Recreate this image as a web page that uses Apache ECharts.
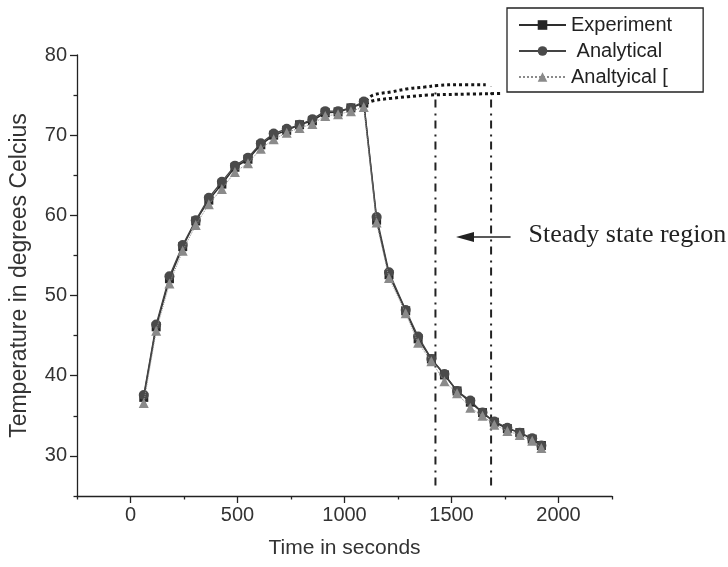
<!DOCTYPE html>
<html>
<head>
<meta charset="utf-8">
<script src="https://cdn.jsdelivr.net/npm/echarts@6/dist/echarts.min.js"></script>
<style>
  html, body { margin: 0; padding: 0; background: #fff; }
  #chart { width: 728px; height: 567px; }
</style>
</head>
<body>
<div id="chart"></div>
<script>
// Sampling times (s): heating run followed by the cooling run
const timeSec = [62, 120, 182, 244, 305, 366, 427, 488, 549, 609, 669, 730, 790, 850, 910, 970, 1030, 1090,
                 1150, 1208, 1286, 1344, 1406, 1467, 1526, 1588, 1645, 1700, 1761, 1819, 1877, 1920];

// Measured temperatures (deg C)
const experiment = [37.3, 46.1, 52.1, 56.1, 59.3, 61.9, 63.9, 66.0, 67.0, 68.8, 70.0, 70.6, 71.3, 71.8, 72.8, 72.9, 73.4, 74.0,
                    59.4, 52.6, 48.1, 44.6, 42.1, 40.1, 38.1, 36.7, 35.4, 34.2, 33.4, 32.9, 32.1, 31.3];

// Analytical model
const analytical = [37.6, 46.4, 52.4, 56.3, 59.4, 62.2, 64.2, 66.2, 67.2, 69.0, 70.2, 70.8, 71.3, 72.0, 73.0, 73.0, 73.4, 74.2,
                    59.8, 52.9, 48.2, 44.9, 42.1, 40.2, 38.1, 36.9, 35.4, 34.3, 33.5, 32.9, 32.2, 31.3];

// Second analytical model
const analytical2 = [36.6, 45.6, 51.5, 55.6, 58.8, 61.4, 63.3, 65.4, 66.5, 68.3, 69.5, 70.3, 70.9, 71.4, 72.4, 72.6, 73.0, 73.5,
                     59.1, 52.2, 47.8, 44.1, 41.8, 39.3, 37.8, 36.0, 35.0, 33.9, 33.1, 32.6, 31.9, 31.0];

// Continued heating curves (no cooling) approaching steady state
const upperTime = [1100, 1134, 1220, 1297, 1374, 1436, 1529, 1660];
const upperTemp = [74.3, 75.0, 75.4, 75.8, 76.0, 76.2, 76.3, 76.3];
const lowerTime = [1100, 1134, 1220, 1297, 1390, 1529, 1738];
const lowerTemp = [73.9, 74.3, 74.6, 74.8, 75.0, 75.1, 75.2];

// Steady state window bounds (s) and the vertical span of the markers (deg C)
const steadyBounds = [1425, 1685];
const steadySpan = [26.3, 76.1];

// Axis ticks: labelled major ticks and short minor ticks
const xTickLabels = [0, 500, 1000, 1500, 2000];
const xMinorTicks = [-250, 250, 750, 1250, 1750, 2250];
const yTickLabels = [30, 40, 50, 60, 70, 80];
const yMinorTicks = [25, 35, 45, 55, 65, 75];

// Annotation anchor in data units
const arrowTipTime = 1521, arrowTailTime = 1776, arrowTemp = 57.3, noteTime = 1860;

const zip = (xs, ys) => xs.map((x, i) => [x, ys[i]]);

const INK = '#222';
const TEXT = '#333';
const SANS = '"Liberation Sans", Arial, sans-serif';

const chart = echarts.init(document.getElementById('chart'), null, { renderer: 'canvas' });

const steadySeries = steadyBounds.map(t => ({
  type: 'line',
  data: [[t, steadySpan[0]], [t, steadySpan[1]]],
  symbol: 'none',
  silent: true,
  lineStyle: { color: INK, width: 2, type: [8, 5, 2, 6] },
  z: 1
}));

const xRange = { type: 'value', min: -250, max: 2250, interval: 250, splitLine: { show: false } };
const yRange = { type: 'value', min: 25, max: 80, interval: 5, splitLine: { show: false } };

const option = {
  animation: false,
  backgroundColor: '#fff',
  grid: { left: 72, right: 116, top: 55, bottom: 71, containLabel: false },
  legend: {
    data: ['Experiment', ' Analytical', 'Analtyical ['],
    orient: 'vertical',
    left: 507,
    top: 8,
    padding: [7, 31, 5, 11],
    itemWidth: 47,
    itemHeight: 12,
    itemGap: 6,
    borderColor: INK,
    borderWidth: 1.3,
    backgroundColor: '#fff',
    textStyle: { fontSize: 20, color: INK, fontFamily: SANS, lineHeight: 20 }
  },
  xAxis: [
    Object.assign({}, xRange, {
      name: 'Time in seconds',
      nameLocation: 'middle',
      nameGap: 42,
      nameTextStyle: { fontSize: 21, color: TEXT, fontFamily: SANS },
      axisLine: { onZero: false, lineStyle: { color: INK, width: 1.3 } },
      axisTick: { length: 7, customValues: xTickLabels, lineStyle: { color: INK, width: 1.3 } },
      axisLabel: {
        fontSize: 20, color: TEXT, fontFamily: SANS, margin: 9,
        customValues: xTickLabels,
        formatter: v => String(v)
      }
    }),
    Object.assign({}, xRange, {
      position: 'bottom',
      axisLine: { show: false, onZero: false },
      axisTick: { length: 3.5, customValues: xMinorTicks, lineStyle: { color: INK, width: 1.3 } },
      axisLabel: { show: false }
    })
  ],
  yAxis: [
    Object.assign({}, yRange, {
      name: 'Temperature in degrees Celcius',
      nameLocation: 'middle',
      nameGap: 46,
      nameTextStyle: { fontSize: 23, color: TEXT, fontFamily: SANS },
      axisLine: { onZero: false, lineStyle: { color: INK, width: 1.3 } },
      axisTick: { length: 7, customValues: yTickLabels, lineStyle: { color: INK, width: 1.3 } },
      axisLabel: {
        fontSize: 20, color: TEXT, fontFamily: SANS, margin: 10,
        customValues: yTickLabels,
        formatter: v => String(v)
      }
    }),
    Object.assign({}, yRange, {
      position: 'left',
      axisLine: { show: false, onZero: false },
      axisTick: { length: 3.5, customValues: yMinorTicks, lineStyle: { color: INK, width: 1.3 } },
      axisLabel: { show: false }
    })
  ],
  series: [
    ...steadySeries,
    {
      type: 'line',
      data: zip(upperTime, upperTemp),
      symbol: 'none',
      smooth: 0.4,
      silent: true,
      lineStyle: { color: '#151515', width: 3, type: [3, 3], cap: 'butt' },
      z: 2
    },
    {
      type: 'line',
      data: zip(lowerTime, lowerTemp),
      symbol: 'none',
      smooth: 0.4,
      silent: true,
      lineStyle: { color: '#151515', width: 3, type: [3, 3], cap: 'butt' },
      z: 2
    },
    {
      name: 'Experiment',
      type: 'line',
      data: zip(timeSec, experiment),
      symbol: 'rect',
      symbolSize: 9,
      itemStyle: { color: '#262626' },
      lineStyle: { color: '#2e2e2e', width: 1.5 },
      z: 3
    },
    {
      name: ' Analytical',
      type: 'line',
      data: zip(timeSec, analytical),
      symbol: 'circle',
      symbolSize: 10,
      itemStyle: { color: '#4a4a4a' },
      lineStyle: { color: '#444', width: 1.3 },
      z: 4
    },
    {
      name: 'Analtyical [',
      type: 'line',
      data: zip(timeSec, analytical2),
      symbol: 'triangle',
      symbolSize: 10,
      itemStyle: { color: '#8a8a8a' },
      lineStyle: { color: '#8a8a8a', width: 1, type: 'dotted' },
      z: 5
    }
  ]
};

chart.setOption(option);

// "Steady state region" pointer, anchored in data coordinates
const tip = chart.convertToPixel({ gridIndex: 0 }, [arrowTipTime, arrowTemp]);
const tail = chart.convertToPixel({ gridIndex: 0 }, [arrowTailTime, arrowTemp]);
const note = chart.convertToPixel({ gridIndex: 0 }, [noteTime, arrowTemp]);

chart.setOption({
  graphic: [
    {
      type: 'line',
      shape: { x1: tip[0] + 14, y1: tip[1], x2: tail[0], y2: tail[1] },
      style: { stroke: INK, lineWidth: 1.6 },
      z: 10
    },
    {
      type: 'polygon',
      shape: { points: [[tip[0], tip[1]], [tip[0] + 18, tip[1] - 5], [tip[0] + 18, tip[1] + 5]] },
      style: { fill: INK },
      z: 10
    },
    {
      type: 'text',
      x: note[0],
      y: note[1] - 2,
      style: {
        text: 'Steady state region',
        fill: INK,
        font: '26px "Liberation Serif", "Times New Roman", serif',
        textAlign: 'left',
        textVerticalAlign: 'middle'
      },
      z: 10
    }
  ]
});
</script>
</body>
</html>
